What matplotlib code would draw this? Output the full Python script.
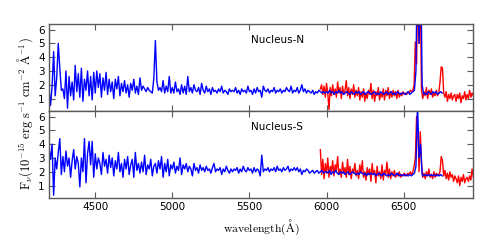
import numpy as np
import matplotlib
matplotlib.use("Agg")
import matplotlib.pyplot as plt

plt.rcParams["mathtext.fontset"] = "cm"
plt.rcParams["font.family"] = ["DejaVu Sans"]

# blue spectrum: 4200 A onward, 10 A per point
blue_start = 4200
blue_step = 10
# red spectrum: 5960 A onward, 8 A per point
red_start = 5960
red_step = 8

blue_N = [
    1.8, 0.5, 1.9, 4.4, 1.2, 2.5, 5.0, 3.2, 1.6, 1.7,
    1.0, 3.0, 0.3, 2.6, 1.2, 2.2, 0.9, 3.4, 1.5, 2.8,
    1.1, 3.2, 0.8, 2.4, 1.6, 3.0, 1.2, 2.6, 0.9, 2.9,
    1.4, 3.0, 1.8, 2.8, 1.1, 2.5, 1.6, 2.9, 1.3, 2.4,
    1.5, 2.2, 1.0, 2.4, 1.7, 2.6, 1.2, 2.1, 1.5, 2.3,
    1.4, 2.0, 1.1, 2.1, 1.6, 2.4, 1.4, 1.9, 1.3, 2.5,
    1.6, 1.9, 1.7, 1.5, 1.8, 1.6, 1.5, 1.4, 2.5, 5.2,
    2.2, 1.6, 1.8, 1.5, 2.3, 1.4, 1.9, 1.5, 2.6, 1.4,
    1.8, 1.4, 2.2, 1.5, 1.7, 1.3, 2.0, 1.4, 1.9, 1.3,
    2.6, 1.5, 1.8, 1.4, 2.0, 1.6, 1.5, 1.8, 1.3, 2.1,
    1.6, 1.4, 1.9, 1.5, 1.7, 1.3, 1.8, 1.5, 1.6, 1.4,
    1.7, 1.5, 1.9, 1.4, 1.6, 1.5, 1.3, 1.7, 1.5, 1.6,
    1.5, 1.8, 1.4, 1.6, 1.3, 1.7, 1.5, 1.6, 1.4, 1.9,
    1.5, 1.6, 1.3, 1.7, 1.4, 1.8, 1.5, 1.6, 1.1, 1.9,
    1.6, 1.5, 1.7, 1.4, 1.6, 1.5, 1.8, 1.4, 1.6, 1.5,
    1.7, 1.4, 1.6, 1.5, 1.8, 1.6, 1.5, 1.9, 1.4, 1.6,
    1.5, 1.8, 1.4, 1.6, 2.0, 1.5, 1.7, 1.4, 1.6, 1.5,
    1.4, 1.6, 1.3, 1.5, 1.4, 1.6, 1.5, 1.4, 1.5, 1.4,
    1.5, 1.4, 1.6, 1.4, 1.5, 1.3, 1.5, 1.4, 1.6, 1.4,
    1.5, 1.3, 1.4, 1.5, 1.4, 1.3, 1.5, 1.4, 1.3, 1.5,
    1.4, 1.5, 1.3, 1.4, 1.5, 1.3, 1.4, 1.5, 1.4, 1.3,
    1.4, 1.5, 1.3, 1.4, 1.3, 1.5, 1.4, 1.3, 1.4, 1.5,
    1.3, 1.4, 1.5, 1.3, 1.4, 1.3, 1.5, 1.4, 1.3, 1.4,
    1.4, 1.3, 1.4, 1.5, 1.3, 1.4, 1.5, 1.6, 3.0, 12.0,
    5.0, 12.0, 2.0, 1.3, 1.4, 1.3, 1.5, 1.4, 1.3, 1.5,
    1.4, 1.5, 1.3, 1.4, 1.5, 1.4,
]

red_N = [
    1.7, 2.0, 1.3, 1.9, 1.1, 2.1, 1.4, 0.2, 1.8, 1.2,
    2.0, 1.3, 1.7, 1.1, 2.2, 1.4, 1.8, 1.0, 1.9, 1.3,
    1.6, 2.3, 1.2, 1.8, 1.0, 1.7, 1.3, 2.0, 1.1, 1.6,
    1.2, 1.8, 0.9, 1.5, 1.1, 1.7, 0.8, 1.4, 1.0, 1.6,
    1.3, 2.1, 1.0, 1.6, 0.8, 1.5, 1.2, 1.8, 0.9, 1.4,
    1.1, 1.7, 0.9, 1.6, 1.2, 1.8, 1.0, 1.5, 1.1, 1.6,
    1.2, 1.5, 1.0, 1.6, 1.1, 1.4, 1.2, 1.5, 1.3, 1.4,
    1.3, 1.5, 1.4, 1.6, 1.5, 1.6, 2.0, 5.1, 3.5, 9.0,
    5.0, 9.0, 1.6, 1.0, 1.5, 1.2, 1.8, 1.0, 1.6, 1.3,
    1.7, 1.1, 1.4, 1.2, 1.6, 1.2, 1.4, 2.2, 3.3, 3.2,
    1.4, 1.1, 1.5, 0.8, 1.3, 1.0, 1.4, 0.9, 1.2, 1.3,
    0.8, 1.3, 1.0, 1.4, 0.7, 1.2, 1.0, 1.5, 0.9, 1.3,
    1.0, 1.6, 1.1, 1.4, 1.2,
]

blue_S = [
    3.7, 2.9, 4.0, 0.3, 3.0, 2.2, 3.4, 4.4, 1.8, 3.1,
    2.0, 3.5, 2.4, 3.0, 1.6, 2.8, 3.6, 2.2, 3.1, 2.6,
    0.9, 3.0, 2.0, 4.4, 1.2, 3.3, 4.2, 2.5, 4.2, 1.6,
    3.3, 2.2, 3.0, 2.6, 1.8, 3.4, 2.4, 2.9, 1.9, 3.2,
    2.3, 3.0, 1.7, 2.8, 2.2, 3.4, 2.0, 2.6, 1.6, 2.9,
    2.2, 3.1, 1.8, 2.5, 2.9, 1.6, 3.4, 2.1, 2.6, 1.9,
    2.7, 2.0, 3.2, 1.8, 2.5, 2.2, 2.9, 1.7, 2.4, 2.6,
    1.9, 2.8, 2.2, 3.1, 1.6, 2.6, 2.0, 2.9, 1.7, 2.5,
    2.2, 2.7, 1.9, 2.4, 2.1, 3.0, 1.8, 2.5, 2.2, 2.6,
    2.0, 2.4, 2.2, 1.7, 2.6, 2.1, 2.3, 1.9, 2.5, 2.1,
    2.3, 2.0, 2.4, 2.1, 2.2, 1.9, 2.3, 2.6, 2.0, 2.2,
    2.1, 2.3, 1.8, 2.2, 2.0, 2.4, 2.1, 1.9, 2.2, 2.0,
    2.2, 2.1, 2.3, 1.9, 2.2, 2.0, 2.4, 2.1, 2.0, 2.3,
    2.1, 2.2, 1.9, 2.3, 2.0, 2.2, 2.1, 1.7, 3.2, 2.0,
    2.2, 2.1, 2.3, 2.0, 2.2, 2.1, 2.3, 2.0, 2.4, 2.1,
    2.2, 2.0, 2.3, 2.1, 2.2, 2.4, 2.0, 2.2, 2.1, 2.3,
    2.1, 2.3, 2.0, 2.2, 1.8, 2.1, 2.0, 2.2, 2.1, 1.9,
    2.0, 2.1, 1.9, 2.0, 2.1, 1.9, 2.0, 2.1, 1.9, 2.0,
    2.0, 1.9, 2.1, 1.8, 2.0, 1.9, 2.1, 1.9, 1.8, 2.0,
    1.9, 2.0, 1.8, 1.9, 2.0, 1.8, 1.9, 2.0, 1.9, 1.8,
    1.9, 1.8, 2.0, 1.9, 1.8, 1.9, 1.7, 1.9, 1.8, 1.9,
    1.8, 1.9, 1.7, 1.8, 1.9, 1.8, 1.7, 1.9, 1.8, 1.7,
    1.8, 1.7, 1.9, 1.8, 1.7, 1.8, 1.9, 1.7, 1.8, 1.7,
    1.8, 1.7, 1.8, 1.7, 1.8, 1.7, 1.8, 1.9, 2.4, 7.0,
    3.0, 4.0, 1.8, 1.7, 1.8, 1.7, 1.8, 1.7, 1.8, 1.7,
    1.8, 1.7, 1.8, 1.7, 1.8, 1.7,
]

red_S = [
    3.6, 1.8, 2.9, 1.5, 2.6, 1.9, 3.0, 1.6, 2.4, 2.0,
    2.8, 1.7, 2.5, 2.1, 3.1, 1.8, 2.2, 1.6, 2.7, 1.9,
    2.3, 1.6, 2.9, 1.8, 2.4, 1.5, 2.2, 1.9, 2.6, 1.7,
    2.1, 1.5, 2.5, 1.9, 2.8, 1.6, 2.0, 1.4, 2.3, 1.8,
    2.2, 1.3, 2.6, 1.8, 2.1, 1.2, 2.4, 1.7, 2.0, 1.5,
    2.5, 1.4, 2.1, 1.8, 2.7, 1.6, 2.2, 1.5, 2.0, 1.7,
    2.1, 1.6, 1.9, 1.7, 2.0, 1.6, 1.8, 1.7, 1.9, 1.8,
    1.7, 1.9, 1.8, 2.0, 1.8, 2.0, 2.4, 3.0, 6.0, 5.0,
    2.0, 4.9, 2.6, 1.6, 1.9, 1.5, 2.0, 1.7, 2.2, 1.6,
    1.8, 1.5, 2.0, 1.6, 1.9, 1.7, 1.8, 2.0, 3.1, 2.8,
    1.7, 2.1, 1.5, 1.9, 1.4, 2.0, 1.6, 1.8, 1.3, 1.7,
    1.5, 1.2, 1.7, 1.0, 1.6, 1.3, 1.8, 1.2, 1.5, 1.6,
    1.3, 1.7, 1.4, 2.2, 1.6,
]

panels = [("Nucleus-N", blue_N, red_N), ("Nucleus-S", blue_S, red_S)]
yticks = [1, 2, 3, 4, 5, 6]
xticks = [4500, 5000, 5500, 6000, 6500]

fig = plt.figure(figsize=(4.98, 2.49), dpi=100)
ax_top = fig.add_axes([0.0984, 0.5542, 0.8514, 0.3494])
ax_bot = fig.add_axes([0.0984, 0.2048, 0.8514, 0.3494], sharex=ax_top)

for ax, (name, blue, red) in zip([ax_top, ax_bot], panels):
    wb = blue_start + blue_step * np.arange(len(blue))
    wr = red_start + red_step * np.arange(len(red))
    ax.plot(wr, red, color="r", lw=1.0)
    ax.plot(wb, blue, color="b", lw=1.0)
    ax.set_xlim(4200, 6950)
    ax.set_ylim(0.1, 6.4)
    ax.set_yticks(yticks)
    ax.set_xticks(xticks)
    ax.tick_params(direction="in", top=True, right=True, length=4,
                   width=0.8, color="0.35", labelsize=7.5, pad=3)
    for s in ax.spines.values():
        s.set_color("0.35")
        s.set_linewidth(1.0)
    ax.text(0.476, 0.816, name, transform=ax.transAxes, fontsize=7.5,
            va="center", ha="left")

ax_top.tick_params(labelbottom=False)
ax_bot.set_xlabel(r"$\rm wavelength(\AA)$", fontsize=8.5, labelpad=4)
fig.text(0.05, 0.545,
         r"$\rm F_\nu (10^{-15}\ erg\ s^{-1}\ cm^{-2}\ \AA^{-1})$",
         rotation=90, fontsize=9, ha="center", va="center")

fig.savefig("out.png", dpi=100)
